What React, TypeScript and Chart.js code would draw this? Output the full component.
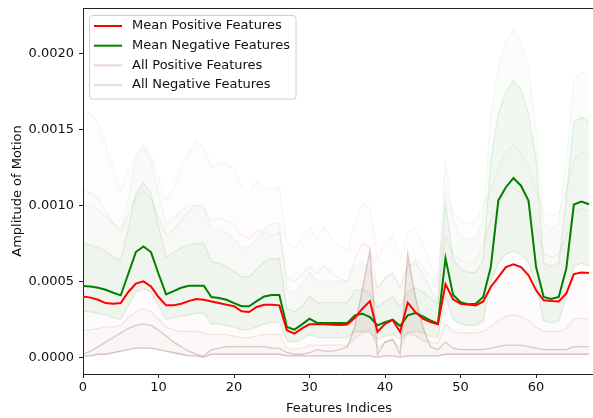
import React, { useEffect, useRef } from 'react';
import { Chart, registerables } from 'chart.js';
Chart.register(...registerables);

const featureIdx = [0,1,2,3,4,5,6,7,8,9,10,11,12,13,14,15,16,17,18,19,20,21,22,23,24,25,26,27,28,29,30,31,32,33,34,35,36,37,38,39,40,41,42,43,44,45,46,47,48,49,50,51,52,53,54,55,56,57,58,59,60,61,62,63,64,65,66,67];
const xTicks = [0, 10, 20, 30, 40, 50, 60];
const yTicks = [0, 0.0005, 0.001, 0.0015, 0.002];

const meanPos = [0.000401,0.000393,0.000379,0.000357,0.000353,0.000357,0.00043,0.000485,0.0005,0.000467,0.000397,0.000342,0.000342,0.000353,0.00037,0.000384,0.000379,0.000368,0.000357,0.000346,0.000336,0.000303,0.000298,0.000331,0.000346,0.000346,0.000342,0.000178,0.000156,0.00019,0.000217,0.000217,0.000217,0.000215,0.000212,0.000215,0.00026,0.00032,0.00037,0.000167,0.000221,0.000246,0.000167,0.00036,0.000298,0.000254,0.000232,0.000217,0.000482,0.000382,0.000352,0.000347,0.000342,0.000368,0.000463,0.000528,0.000594,0.000612,0.000594,0.00054,0.000441,0.000375,0.00037,0.000368,0.00042,0.000548,0.000559,0.000555];
const meanNeg = [0.000469,0.000466,0.000458,0.000445,0.000425,0.000408,0.00055,0.000693,0.00073,0.000693,0.00055,0.000414,0.000436,0.000458,0.000471,0.000471,0.000471,0.000397,0.00039,0.000379,0.000357,0.000336,0.000336,0.00037,0.000401,0.00041,0.00041,0.0002,0.000182,0.000217,0.000254,0.000226,0.000226,0.000226,0.000226,0.000226,0.000276,0.000287,0.000265,0.00021,0.000232,0.000248,0.000206,0.000276,0.000292,0.00027,0.000243,0.000221,0.000652,0.000412,0.000362,0.000349,0.000353,0.000397,0.000594,0.001033,0.00112,0.00118,0.00113,0.00103,0.000594,0.000397,0.000384,0.000397,0.000585,0.001006,0.001026,0.001008];

const negTop = [0.001,0.001,0.00097,0.00093,0.00088,0.00085,0.00105,0.0013,0.00138,0.0013,0.00108,0.00088,0.00092,0.00096,0.001,0.001,0.001,0.00085,0.00084,0.00082,0.00078,0.00072,0.00072,0.00078,0.00085,0.00088,0.00088,0.00045,0.00042,0.00048,0.00056,0.0005,0.0005,0.0005,0.0005,0.0005,0.0006,0.00062,0.00058,0.00046,0.00052,0.00055,0.00046,0.0006,0.00064,0.0006,0.00054,0.00048,0.0013,0.0009,0.0008,0.00078,0.00078,0.0009,0.0016,0.0019,0.00208,0.00216,0.00208,0.0019,0.0015,0.00088,0.00084,0.00088,0.0013,0.00182,0.00188,0.00185];
const negHigh = [0.00075,0.00074,0.00072,0.0007,0.00066,0.00064,0.00085,0.00108,0.00115,0.00108,0.00086,0.00066,0.00069,0.00072,0.00074,0.00075,0.00075,0.00063,0.00062,0.0006,0.00057,0.00053,0.00053,0.00058,0.00063,0.00065,0.00065,0.00032,0.0003,0.00034,0.0004,0.00036,0.00036,0.00036,0.00036,0.00036,0.00044,0.00045,0.00042,0.00033,0.00037,0.0004,0.00033,0.00043,0.00046,0.00043,0.00039,0.00035,0.00102,0.00065,0.00058,0.00056,0.00056,0.00064,0.0013,0.0016,0.00175,0.00182,0.00176,0.0016,0.0013,0.00062,0.0006,0.00062,0.00105,0.00155,0.00158,0.00155];
const negLow = [0.0003,0.0003,0.00029,0.00028,0.00026,0.00025,0.00034,0.00043,0.00045,0.00043,0.00034,0.00025,0.00026,0.00027,0.00028,0.00029,0.00029,0.00022,0.00022,0.00021,0.0002,0.00018,0.00018,0.0002,0.00022,0.00023,0.00023,0.00011,0.0001,0.00012,0.00015,0.00013,0.00013,0.00013,0.00013,0.00013,0.00017,0.00017,0.00016,0.00012,0.00014,0.00015,0.00012,0.00016,0.00017,0.00016,0.00014,0.00013,0.0004,0.00025,0.00022,0.00021,0.00021,0.00024,0.0005,0.00062,0.00068,0.0007,0.00068,0.00062,0.00048,0.00024,0.00023,0.00024,0.0004,0.0006,0.00062,0.0006];

const posTop = [0.00162,0.0016,0.00155,0.0014,0.00125,0.0011,0.00122,0.00133,0.0014,0.00133,0.00118,0.00103,0.00112,0.00125,0.00135,0.00142,0.00138,0.00125,0.00128,0.00128,0.00124,0.00112,0.00108,0.00116,0.00112,0.0011,0.00112,0.00075,0.00072,0.00078,0.00086,0.00078,0.00086,0.00078,0.00074,0.0007,0.00088,0.00102,0.00098,0.00065,0.00075,0.0008,0.00065,0.00082,0.00085,0.00075,0.00062,0.0005,0.0011,0.00095,0.0009,0.00088,0.0009,0.001,0.0011,0.00125,0.00135,0.0014,0.00135,0.00125,0.0011,0.00095,0.00093,0.00095,0.0011,0.0013,0.00135,0.00133];
const posHigh = [0.0011,0.00108,0.00104,0.00096,0.00088,0.00082,0.00094,0.00105,0.0011,0.00104,0.00092,0.0008,0.00084,0.0009,0.00096,0.001,0.00098,0.0009,0.00092,0.0009,0.00088,0.0008,0.00078,0.00084,0.00082,0.0008,0.00082,0.00052,0.0005,0.00054,0.0006,0.00055,0.0006,0.00055,0.00052,0.0005,0.00064,0.00075,0.00072,0.00045,0.00052,0.00056,0.00045,0.0006,0.00062,0.00055,0.00045,0.00036,0.0008,0.00068,0.00064,0.00062,0.00064,0.00075,0.0009,0.001,0.00108,0.00112,0.00108,0.001,0.00085,0.00068,0.00066,0.00068,0.0008,0.00095,0.00098,0.00096];
const posMidLow = [0.00018,0.00018,0.00019,0.0002,0.0002,0.00021,0.00026,0.0003,0.00032,0.0003,0.00025,0.0002,0.00018,0.00017,0.00017,0.00017,0.00016,0.00015,0.00015,0.00015,0.00014,0.00013,0.00013,0.00014,0.00015,0.00015,0.00015,0.00006,0.00005,0.00006,0.00008,0.00008,0.00008,0.00008,0.00008,0.00008,0.00012,0.00016,0.00018,0.00006,0.0001,0.00011,0.00006,0.00016,0.00014,0.00011,0.0001,0.00009,0.00022,0.00017,0.00016,0.00016,0.00016,0.00017,0.0002,0.00024,0.00027,0.00028,0.00027,0.00024,0.0002,0.00017,0.00017,0.00017,0.00019,0.00025,0.00026,0.00025];
const posHump = [0.00002,0.00004,0.00007,0.0001,0.00013,0.00016,0.00019,0.00021,0.00022,0.00021,0.00018,0.00014,0.0001,0.00007,0.00004,0.00002,0.00001,0.00005,0.00006,0.00007,0.00007,0.00007,0.00007,0.00007,0.00007,0.00006,0.00006,0.00003,0.00002,0.00002,0.00003,0.00005,0.00004,0.00004,0.00005,0.00007,0.0002,0.00045,0.0007,0.00002,0.0001,0.00012,0.00002,0.00068,0.0004,0.0002,0.00007,0.00005,0.0001,0.00006,0.00005,0.00005,0.00005,0.00005,0.00006,0.00007,0.00008,0.00008,0.00008,0.00007,0.00006,0.00005,0.00005,0.00005,0.00005,0.00007,0.00007,0.00007];
const posFloor = [0.00001,0.00001,0.00002,0.00002,0.00003,0.00004,0.00005,0.00006,0.00006,0.00006,0.00005,0.00004,0.00003,0.00002,0.00001,0.00001,0,0.00002,0.00002,0.00002,0.00002,0.00002,0.00002,0.00002,0.00002,0.00002,0.00002,0.00001,0.00001,0.00001,0.00001,0.00001,0.00001,0.00001,0.00001,0.00001,0.00001,0.00001,0.00001,0,0.00001,0.00001,0,0.00001,0.00001,0.00001,0.00001,0.00001,0.00002,0.00002,0.00002,0.00002,0.00002,0.00002,0.00002,0.00002,0.00002,0.00002,0.00002,0.00002,0.00002,0.00002,0.00002,0.00002,0.00002,0.00002,0.00002,0.00002];

const legendItems = [
  { label: 'Mean Positive Features', color: '#ff0000' },
  { label: 'Mean Negative Features', color: '#008000' },
  { label: 'All Positive Features', color: 'rgba(165,42,42,0.2)' },
  { label: 'All Negative Features', color: 'rgba(0,128,0,0.18)' },
];

const FONT = '"DejaVu Sans", sans-serif';

const pts = (arr: number[]) => arr.map((v, i) => ({ x: featureIdx[i], y: v }));

const extras = {
  id: 'extras',
  afterDraw(chart: any) {
    const ctx = chart.ctx;
    const a = chart.chartArea;
    ctx.save();
    ctx.strokeStyle = '#222';
    ctx.lineWidth = 1;
    ctx.beginPath();
    ctx.moveTo(a.left, a.top + 0.5);
    ctx.lineTo(a.right, a.top + 0.5);
    ctx.stroke();
    ctx.fillStyle = '#111';
    ctx.font = '13px ' + FONT;
    ctx.textAlign = 'center';
    ctx.textBaseline = 'alphabetic';
    ctx.fillText('Features Indices', (a.left + a.right) / 2, 411.5);
    ctx.save();
    ctx.translate(21, (a.top + a.bottom) / 2);
    ctx.rotate(-Math.PI / 2);
    ctx.fillText('Amplitude of Motion', 0, 0);
    ctx.restore();
    const bx = 89.5, by = 15.5, bw = 206.5, bh = 83.5, r = 3;
    ctx.beginPath();
    ctx.moveTo(bx + r, by);
    ctx.lineTo(bx + bw - r, by);
    ctx.quadraticCurveTo(bx + bw, by, bx + bw, by + r);
    ctx.lineTo(bx + bw, by + bh - r);
    ctx.quadraticCurveTo(bx + bw, by + bh, bx + bw - r, by + bh);
    ctx.lineTo(bx + r, by + bh);
    ctx.quadraticCurveTo(bx, by + bh, bx, by + bh - r);
    ctx.lineTo(bx, by + r);
    ctx.quadraticCurveTo(bx, by, bx + r, by);
    ctx.closePath();
    ctx.fillStyle = 'rgba(255,255,255,0.8)';
    ctx.fill();
    ctx.strokeStyle = '#d0d0d0';
    ctx.lineWidth = 1;
    ctx.stroke();
    legendItems.forEach((it, k) => {
      const y = 26 + k * 19.7;
      ctx.strokeStyle = it.color;
      ctx.lineWidth = 2;
      ctx.beginPath();
      ctx.moveTo(94, y);
      ctx.lineTo(122, y);
      ctx.stroke();
      ctx.fillStyle = '#111';
      ctx.textAlign = 'left';
      ctx.textBaseline = 'middle';
      ctx.fillText(it.label, 132, y);
    });
    ctx.restore();
  },
};

export default function App() {
  const ref = useRef<HTMLCanvasElement>(null);
  useEffect(() => {
    document.body.style.margin = '0';
    const faint = (data: number[], color: string, fillColor: string | null, width = 1.3) => ({
      data: pts(data),
      borderColor: color,
      borderWidth: width,
      pointRadius: 0,
      fill: fillColor ? '+1' : false,
      backgroundColor: fillColor || 'transparent',
    });
    const noPad = (s: any) => { s.paddingTop = 0; s.paddingBottom = 0; s.paddingLeft = 0; s.paddingRight = 0; };
    const chart = new Chart(ref.current as HTMLCanvasElement, {
      type: 'line',
      data: {
        datasets: [
          { data: pts(meanPos), borderColor: '#ff0000', borderWidth: 2, pointRadius: 0, fill: false },
          { data: pts(meanNeg), borderColor: '#008000', borderWidth: 2, pointRadius: 0, fill: false },
          faint(negTop, 'rgba(0,128,0,0.05)', 'rgba(0,128,0,0.018)'),
          faint(negHigh, 'rgba(0,128,0,0.1)', 'rgba(0,128,0,0.055)'),
          faint(negLow, 'rgba(0,128,0,0.1)', null),
          faint(posTop, 'rgba(165,42,42,0.05)', 'rgba(165,42,42,0.01)'),
          faint(posHigh, 'rgba(165,42,42,0.07)', 'rgba(165,42,42,0.018)'),
          faint(posMidLow, 'rgba(165,42,42,0.1)', 'rgba(165,42,42,0.03)'),
          faint(posHump, 'rgba(130,60,60,0.25)', 'rgba(130,60,60,0.05)'),
          faint(posFloor, 'rgba(130,60,60,0.3)', null),
        ],
      },
      options: {
        responsive: false,
        animation: false,
        devicePixelRatio: 1,
        layout: { padding: { left: 0, top: 8, right: 5, bottom: 0 } },
        plugins: { legend: { display: false }, tooltip: { enabled: false } },
        elements: { line: { tension: 0 } },
        scales: {
          x: {
            type: 'linear',
            min: 0,
            max: 67.8,
            afterBuildTicks: (s: any) => { s.ticks = xTicks.map((v) => ({ value: v })); },
            afterFit: (s: any) => { s.height = 44; noPad(s); },
            grid: { drawOnChartArea: false, drawTicks: true, tickLength: 4, color: '#222' },
            border: { display: true, color: '#222', width: 1 },
            ticks: { color: '#111', font: { family: FONT, size: 13 }, padding: 1.5, maxRotation: 0, callback: (v: any) => String(v) },
          },
          y: {
            type: 'linear',
            min: -0.00011,
            max: 0.0023,
            afterBuildTicks: (s: any) => { s.ticks = yTicks.map((v) => ({ value: v })); },
            afterFit: (s: any) => { s.width = 83; noPad(s); },
            grid: { drawOnChartArea: false, drawTicks: true, tickLength: 4, color: '#222' },
            border: { display: true, color: '#222', width: 1 },
            ticks: { color: '#111', font: { family: FONT, size: 13 }, padding: 5, callback: (v: any) => Number(v).toFixed(4) },
          },
        },
      },
      plugins: [extras],
    } as any);
    return () => chart.destroy();
  }, []);
  return (
    <div style={{ position: 'fixed', left: 0, top: 0, width: 593, height: 418, overflow: 'hidden', background: '#fff' }}>
      <canvas ref={ref} width={600} height={418} style={{ display: 'block' }} />
    </div>
  );
}
